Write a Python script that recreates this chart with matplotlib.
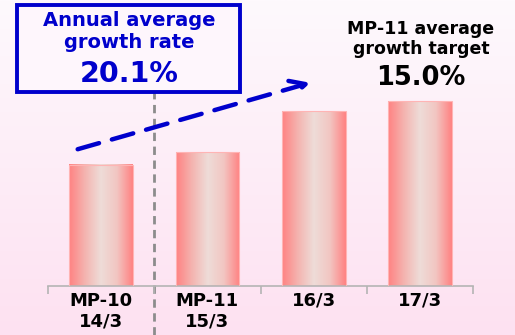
import numpy as np
import matplotlib
matplotlib.use('Agg')
import matplotlib.pyplot as plt
from matplotlib.colors import LinearSegmentedColormap
from matplotlib.patches import Rectangle

# Données (unités relatives)
periodes = ['MP-10\n14/3', 'MP-11\n15/3', '16/3', '17/3']
valeurs = [121, 134, 175, 185]
taux_annuel = '20.1%'
objectif = '15.0%'

W, H = 515, 335
fig = plt.figure(figsize=(W / 100, H / 100), dpi=100)

# Fond dégradé rose
bg = fig.add_axes([0, 0, 1, 1])
bg.set_axis_off()
grad = np.linspace(0, 1, 256).reshape(-1, 1)
fond = LinearSegmentedColormap.from_list('fond', ['#fde1f1', '#fef9fd'])
bg.imshow(grad, aspect='auto', cmap=fond, origin='lower', extent=[0, 1, 0, 1])
bg.set_xlim(0, 1)
bg.set_ylim(0, 1)

# Axe principal
x0, x1, ybase = 48, 473, 286
ax = fig.add_axes([x0 / W, 1 - ybase / H, (x1 - x0) / W, ybase / H])
ax.patch.set_alpha(0)

# Barres avec dégradé horizontal
barres = LinearSegmentedColormap.from_list(
    'barre', ['#ff8282', '#f4b4b0', '#eedcd8', '#f2c6c2', '#ff8282'])
prof = np.linspace(0, 1, 200).reshape(1, -1)
larg = 0.6
for i, v in enumerate(valeurs):
    ax.imshow(prof, aspect='auto', cmap=barres,
              extent=[i - larg / 2, i + larg / 2, 0, v], zorder=2)
    ax.bar(i, v, width=larg, facecolor='none', edgecolor='#ffb4b4', linewidth=0.8, zorder=3)
ax.set_xlim(-0.5, 3.5)
ax.set_ylim(0, ybase)

for s in ['top', 'right', 'left']:
    ax.spines[s].set_visible(False)
ax.spines['bottom'].set_color('#b4b4b4')
ax.spines['bottom'].set_linewidth(1.2)
ax.set_yticks([])
ax.set_xticks(range(len(periodes)))
ax.set_xticklabels(periodes, fontsize=13, fontweight='bold', linespacing=1.2)
ax.tick_params(axis='x', which='major', length=0, pad=4)
ax.set_xticks(np.arange(-0.5, 4, 1), minor=True)
ax.tick_params(axis='x', which='minor', length=6, color='#b4b4b4', width=1.2)

# Ligne pointillée verticale (séparation MP-10 / MP-11)
xl = 154 / W
bg.plot([xl, xl], [0, 1 - 92 / H], color='#8c8c8c', lw=2, ls=(0, (3, 2)), zorder=5)

# Flèche pointillée bleue
def px(x, y):
    return ((x - x0) / 106.25 - 0.5, ybase - y)

ax.annotate('', xy=px(313, 82), xytext=px(75, 150),
            arrowprops=dict(arrowstyle='->', color='#0000cc', lw=3.2,
                            linestyle=(0, (5, 3)), mutation_scale=28),
            zorder=6, annotation_clip=False)

# Encadré taux annuel
bg.add_patch(Rectangle((17 / W, 1 - 92 / H), (240 - 17) / W, (92 - 5) / H,
                       facecolor='#fef6fc', edgecolor='#0000cc', lw=2.8, zorder=6))
bleu = '#0000cc'
bg.text(129 / W, 1 - 21 / H, 'Annual average', color=bleu, fontsize=14,
        fontweight='bold', ha='center', va='center', zorder=7)
bg.text(129 / W, 1 - 43 / H, 'growth rate', color=bleu, fontsize=14,
        fontweight='bold', ha='center', va='center', zorder=7)
bg.text(129 / W, 1 - 74 / H, taux_annuel, color=bleu, fontsize=20.5,
        fontweight='bold', ha='center', va='center', zorder=7)

# Objectif MP-11
bg.text(421 / W, 1 - 29 / H, 'MP-11 average', color='black', fontsize=12.5,
        fontweight='bold', ha='center', va='center', zorder=7)
bg.text(421 / W, 1 - 49 / H, 'growth target', color='black', fontsize=12.5,
        fontweight='bold', ha='center', va='center', zorder=7)
bg.text(421 / W, 1 - 78 / H, objectif, color='black', fontsize=18.5,
        fontweight='bold', ha='center', va='center', zorder=7)

plt.savefig('out.png', dpi=100)
